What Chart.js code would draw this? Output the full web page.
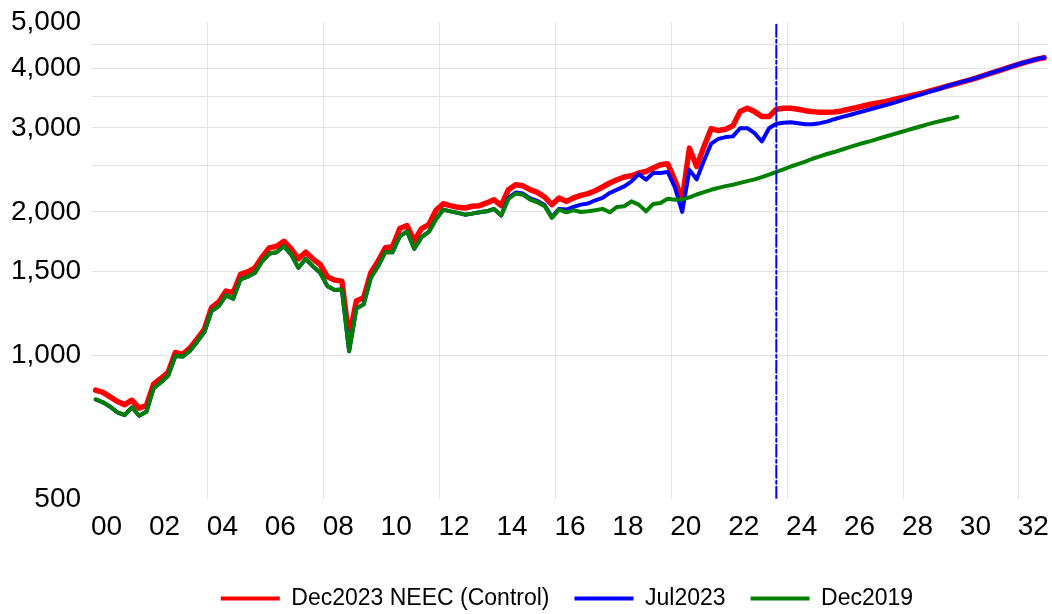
<!DOCTYPE html>
<html>
<head>
<meta charset="utf-8">
<script src="https://cdn.jsdelivr.net/npm/chart.js@4"></script>
<style>
  html, body { margin: 0; padding: 0; background: #fff; }
  #wrap { width: 1052px; height: 614px; }
</style>
</head>
<body>
<div id="wrap"><canvas id="chart" width="1052" height="614"></canvas></div>
<script>
// quarterly points, placed at mid-quarter (2000Q1 .. 2032Q4)
const quarters = [];
for (let y = 2000; y <= 2032; y++) {
  for (let q = 1; q <= 4; q++) quarters.push(y + (q - 0.5) / 4);
}

const dec2023 = [
  845, 836, 818, 800, 788, 805, 775, 784, 870, 894, 921, 1014, 1005, 1035, 1081, 1134, 1259, 1294, 1364, 1354, 1478, 1497, 1526, 1609,
  1681, 1694, 1735, 1673, 1594, 1646, 1594, 1551, 1462, 1438, 1431, 1090, 1300, 1321, 1490, 1575, 1681, 1689, 1845, 1871, 1740, 1845, 1880, 2015,
  2080, 2061, 2044, 2038, 2055, 2061, 2088, 2121, 2061, 2226, 2280, 2268, 2226, 2197, 2149, 2071, 2139, 2104, 2139, 2166, 2184, 2215, 2255, 2299,
  2336, 2367, 2381, 2413, 2431, 2471, 2511, 2523, 2330, 2121, 2721, 2490, 2740, 2990, 2962, 2982, 3030, 3246, 3299, 3246, 3169, 3169, 3284, 3299,
  3299, 3284, 3261, 3246, 3236, 3236, 3241, 3257, 3284, 3308, 3336, 3363, 3384, 3406, 3433, 3462, 3489, 3518, 3546, 3581, 3615, 3650, 3686, 3722,
  3758, 3794, 3836, 3879, 3924, 3968, 4013, 4058, 4103, 4143, 4183, 4210
];

const jul2023 = [
  808, 797, 780, 759, 749, 778, 747, 761, 853, 877, 906, 997, 994, 1021, 1067, 1119, 1238, 1268, 1336, 1315, 1443, 1462, 1490, 1575,
  1635, 1646, 1694, 1627, 1526, 1594, 1538, 1490, 1397, 1371, 1375, 1020, 1253, 1279, 1455, 1538, 1646, 1646, 1777, 1820, 1673, 1770, 1815, 1930,
  2022, 2005, 1990, 1973, 1983, 1996, 2005, 2029, 1964, 2140, 2195, 2185, 2135, 2108, 2068, 1950, 2029, 2022, 2048, 2071, 2082, 2115, 2139, 2191,
  2226, 2262, 2317, 2400, 2336, 2413, 2413, 2425, 2250, 2000, 2450, 2340, 2560, 2780, 2845, 2870, 2880, 2996, 2996, 2925, 2810, 2996, 3060, 3075,
  3084, 3070, 3055, 3055, 3070, 3093, 3129, 3160, 3190, 3221, 3252, 3284, 3315, 3347, 3379, 3417, 3455, 3489, 3529, 3568, 3603, 3643, 3688, 3725,
  3761, 3797, 3839, 3882, 3927, 3971, 4016, 4061, 4106, 4146, 4186, 4216
];

const dec2019 = [
  808, 797, 780, 759, 749, 778, 747, 761, 853, 877, 906, 997, 994, 1021, 1067, 1119, 1238, 1268, 1336, 1315, 1443, 1462, 1490, 1575,
  1635, 1646, 1694, 1627, 1526, 1594, 1538, 1490, 1397, 1371, 1375, 1020, 1253, 1279, 1455, 1538, 1646, 1646, 1777, 1820, 1673, 1770, 1815, 1930,
  2022, 2005, 1990, 1973, 1983, 1996, 2005, 2029, 1964, 2128, 2184, 2173, 2121, 2094, 2055, 1943, 2022, 1996, 2015, 1999, 2005, 2015, 2029, 1996,
  2048, 2055, 2104, 2071, 2005, 2078, 2088, 2131, 2120, 2125, 2145, 2175, 2200, 2225, 2245, 2265, 2280, 2300, 2320, 2340, 2365, 2395, 2425, 2455,
  2490, 2520, 2550, 2585, 2615, 2645, 2670, 2700, 2730, 2760, 2790, 2815, 2845, 2875, 2905, 2935, 2965, 2995, 3025, 3055, 3085, 3110, 3135, 3165
];

// vertical marker at Jul2023 (2023Q3)
const markerQuarter = 2023.625;
const markerLine = [{ x: markerQuarter, y: 500 }, { x: markerQuarter, y: 5000 }];

const xTickLabels = ['00', '02', '04', '06', '08', '10', '12', '14', '16', '18', '20', '22', '24', '26', '28', '30', '32'];
const xGridYears = [2004, 2008, 2012, 2016, 2020, 2024, 2028, 2032];
const yGridValues = [500, 1000, 1500, 2000, 2500, 3000, 3500, 4000, 4500, 5000];
const yTickLabels = [500, 1000, 1500, 2000, 3000, 4000, 5000];

Chart.defaults.font.family = "'Liberation Sans', Arial, sans-serif";
Chart.defaults.color = '#000';

const GRID = '#e3e3e3';

// centre the legend under the plot area rather than the whole canvas
const legendUnderPlot = {
  id: 'legendUnderPlot',
  afterLayout(chart) {
    const lg = chart.legend;
    const dx = (chart.chartArea.left + chart.chartArea.right) / 2 - (lg.left + lg.right) / 2 - 3;
    lg.left += dx;
    lg.right += dx;
    lg.top += 6;
    lg.bottom += 6;
  }
};

const ctx = document.getElementById('chart').getContext('2d');

new Chart(ctx, {
  type: 'line',
  data: {
    labels: quarters,
    datasets: [{
      label: 'Dec2023 NEEC (Control)',
      data: dec2023,
      borderColor: '#ff0000',
      backgroundColor: '#ff0000',
      borderWidth: 5.5,
      order: 3,
    }, {
      label: 'Jul2023',
      data: jul2023,
      borderColor: '#0000ff',
      backgroundColor: '#0000ff',
      borderWidth: 4,
      order: 2,
    }, {
      label: 'Dec2019',
      data: dec2019,
      borderColor: '#008000',
      backgroundColor: '#008000',
      borderWidth: 4,
      order: 1,
    }, {
      label: 'marker',
      data: markerLine,
      borderColor: '#0000ff',
      borderWidth: 2,
      borderDash: [12, 3, 3, 3],
      order: 0,
    }],
  },
  plugins: [legendUnderPlot],
  options: {
    responsive: false,
    animation: false,
    layout: { padding: { left: 0, right: 4, top: 22, bottom: 0 } },
    elements: {
      point: { radius: 0 },
      line: { tension: 0, fill: false, borderJoinStyle: 'round', borderCapStyle: 'round' },
    },
    plugins: {
      tooltip: { enabled: false },
      legend: {
        position: 'bottom',
        labels: {
          boxWidth: 59,
          boxHeight: 4,
          padding: 25,
          font: { size: 23 },
          filter: (item) => item.text !== 'marker',
          sort: (a, b) => a.datasetIndex - b.datasetIndex,
          generateLabels: (chart) => Chart.defaults.plugins.legend.labels.generateLabels(chart)
            .map(item => ({ ...item, fillStyle: item.strokeStyle, lineWidth: 0, lineDash: [] })),
        },
      },
    },
    scales: {
      x: {
        type: 'linear',
        min: 2000,
        max: 2033,
        afterBuildTicks: (axis) => {
          const vals = xGridYears.concat(xTickLabels.map(l => 2000 + Number(l) + 0.5));
          axis.ticks = vals.sort((a, b) => a - b).map(v => ({ value: v }));
        },
        ticks: {
          autoSkip: false,
          maxRotation: 0,
          padding: 3,
          font: { size: 28, lineHeight: 1.786 },
          callback: (v) => {
            const lbl = String(Math.round((v - 0.5 - 2000) * 100) / 100).padStart(2, '0');
            return xTickLabels.includes(lbl) && v % 1 !== 0 ? lbl : '';
          },
        },
        grid: {
          drawTicks: false,
          color: (c) => (c.tick && xGridYears.includes(c.tick.value) ? GRID : 'rgba(0,0,0,0)'),
        },
        border: { display: false },
        // empty title used only as a spacer above the legend
        title: { display: true, text: '', font: { size: 1 }, padding: { top: 0, bottom: 0 } },
      },
      y: {
        type: 'logarithmic',
        min: 500,
        max: 5000,
        afterBuildTicks: (axis) => {
          axis.ticks = yGridValues.map(v => ({ value: v }));
        },
        ticks: {
          autoSkip: false,
          padding: 11,
          font: { size: 28, lineHeight: 0.8 },
          callback: (v) => (yTickLabels.includes(v) ? v.toLocaleString('en-US') : ''),
        },
        grid: {
          drawTicks: false,
          color: (c) => (c.tick && (c.tick.value === 500 || c.tick.value === 5000) ? 'rgba(0,0,0,0)' : GRID),
        },
        border: { display: false },
      },
    },
  },
});
</script>
</body>
</html>
